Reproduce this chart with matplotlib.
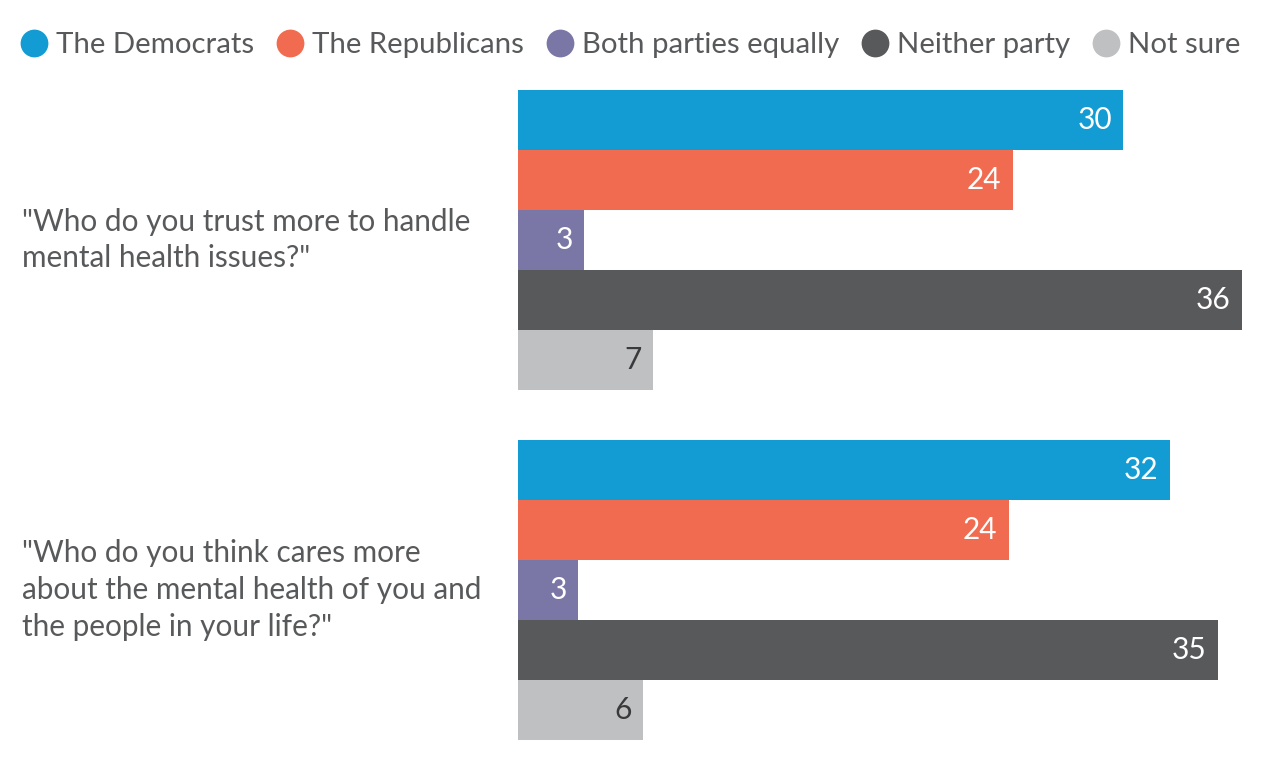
import numpy as np
import matplotlib
matplotlib.use('Agg')
import matplotlib.pyplot as plt
from matplotlib.lines import Line2D

# survey data (bar lengths, labels are rounded values)
questions = ['"Who do you trust more to handle\nmental health issues?"',
             '"Who do you think cares more\nabout the mental health of you and\nthe people in your life?"']
series = ['The Democrats', 'The Republicans', 'Both parties equally', 'Neither party', 'Not sure']
colors = ['#139cd3', '#f06b4f', '#7a77a6', '#58595b', '#bfc0c2']
label_colors = ['white', 'white', 'white', 'white', '#3a3a3a']
trust_values = [30.1, 24.6, 3.3, 36.0, 6.7]
cares_values = [32.4, 24.4, 3.0, 34.8, 6.2]
labels_trust = [30, 24, 3, 36, 7]
labels_cares = [32, 24, 3, 35, 6]

font = 'Lato'
text_color = '#58595b'

fig = plt.figure(figsize=(12.64, 7.6), dpi=100)
W, H = 1264, 760
ax = fig.add_axes([518 / W, (H - 740) / H, (1242 - 518) / W, 650 / H])

group_gap = 5 + 50 / 60
for g, (vals, labs) in enumerate([(trust_values, labels_trust), (cares_values, labels_cares)]):
    ys = np.arange(len(vals)) + g * group_gap
    ax.barh(ys, vals, height=1.0, color=colors, linewidth=0)
    for y, v, lab, lc in zip(ys, vals, labs, label_colors):
        ax.annotate(str(lab), (v, y), xytext=(-8, 0), textcoords='offset points',
                    ha='right', va='center', color=lc, fontsize=21.5, family=font)

ax.set_xlim(0, 36)
ax.set_ylim(4 + group_gap + 0.5, -0.5)
ax.axis('off')

# question text, centred on each group of bars
for g, q in enumerate(questions):
    yc = 2 + g * group_gap
    fy = fig.transFigure.inverted().transform(ax.transData.transform((0, yc)))[1]
    fig.text(22 / W, fy, q, ha='left', va='center', fontsize=21.4, family=font,
             color=text_color, linespacing=1.38)

handles = [Line2D([], [], marker='o', linestyle='', markersize=20, markerfacecolor=c,
                  markeredgewidth=0) for c in colors]
fig.legend(handles, series, loc='center left', bbox_to_anchor=(20 / W, 1 - 45 / H), ncol=5,
           frameon=False, handletextpad=0.26, columnspacing=0.76, handlelength=0.95,
           prop={'family': font, 'size': 21.2}, labelcolor=text_color, borderaxespad=0,
           borderpad=0)

fig.savefig('out.png', dpi=100, facecolor='white')
